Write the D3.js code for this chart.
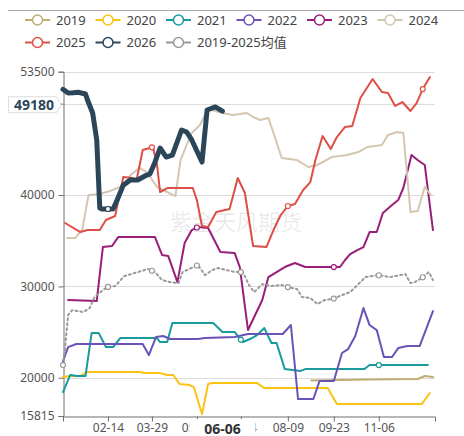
<!DOCTYPE html>
<html>
<head>
<meta charset="utf-8">
<script src="https://cdn.jsdelivr.net/npm/d3@7"></script>
<style>
  body { margin: 0; background: #fff; }
  svg { display: block; font-family: "Noto Sans", "Noto Sans CJK SC", sans-serif; }
</style>
</head>
<body>
<svg id="chart" width="464" height="436"></svg>
<script>
// series names and colours
const seriesNames = ["2019", "2020", "2021", "2022", "2023", "2024", "2025", "2026", "2019-2025均值"];
const seriesColors = ["#bfae72", "#fcc314", "#1b9a9e", "#6a52b8", "#981e78", "#d4c6b0", "#dd4f46", "#2c4659", "#999999"];

// [day of year (0 = 01-01), value]
const s2019 = [[243, 19690], [300, 19800], [347, 19860], [354, 20190], [362, 20080]];
const s2020 = [[0, 20080], [7, 20190], [17, 20190], [23, 20620], [75, 20620], [80, 20510], [95, 20510], [102, 20300],
  [108, 20300], [114, 19310], [124, 19200], [128, 18980], [136, 16030], [142, 19310], [146, 19420], [190, 19420],
  [197, 18870], [259, 18870], [268, 17120], [351, 17120], [359, 18330]];
const s2021 = [[0, 18430], [7, 20300], [14, 20190], [22, 20190], [28, 24890], [35, 24890], [42, 23360], [49, 23360],
  [56, 24350], [92, 24350], [95, 23910], [102, 23910], [107, 25990], [147, 25990], [156, 25000], [168, 25000],
  [176, 23910], [183, 24240], [190, 24680], [197, 25440], [204, 23800], [209, 23800], [217, 20950], [232, 20730],
  [237, 20950], [295, 20950], [300, 21390], [357, 21390]];
const s2022 = [[0, 21830], [5, 23360], [13, 23690], [78, 23690], [84, 22490], [91, 24460], [98, 24570], [105, 24240],
  [132, 24240], [139, 24350], [168, 24460], [181, 24790], [215, 24790], [223, 25770], [230, 17670], [245, 17670],
  [251, 19640], [265, 19640], [273, 22710], [279, 23140], [286, 24570], [294, 27630], [300, 25770], [307, 25220],
  [314, 22270], [322, 22270], [328, 23250], [337, 23470], [349, 23470], [362, 27300]];
const s2023 = [[5, 28510], [33, 28400], [39, 34310], [48, 34420], [54, 35400], [90, 35400], [97, 33430], [103, 33320],
  [112, 30470], [119, 34750], [126, 36170], [132, 36500], [142, 36390], [154, 33760], [168, 33650], [173, 32120],
  [181, 25230], [195, 28510], [201, 31020], [209, 31570], [217, 32120], [227, 32560], [237, 32120], [271, 32120],
  [276, 32890], [281, 33540], [288, 33980], [294, 34310], [300, 35950], [307, 35950], [313, 38030], [322, 38910],
  [328, 39450], [333, 40770], [341, 44380], [347, 43830], [354, 43290], [362, 36170]];
const s2024 = [[4, 35290], [12, 35290], [19, 36280], [25, 40000], [36, 40110], [46, 40440], [58, 40990], [66, 42190],
  [75, 42960], [82, 42520], [92, 40880], [110, 39890], [115, 43830], [121, 45480], [126, 46790], [134, 47670],
  [142, 49420], [156, 48980], [166, 48760], [180, 48980], [186, 48540], [193, 48210], [201, 48430], [205, 47120],
  [214, 44060], [229, 43830], [240, 43070], [249, 43290], [263, 44160], [278, 44380], [289, 44710], [298, 45260],
  [312, 45480], [318, 46570], [327, 46900], [333, 46790], [340, 38140], [347, 38250], [354, 40880], [360, 40000]];
const s2025 = [[2, 36940], [17, 35950], [24, 36170], [36, 36170], [42, 37270], [51, 37710], [59, 41970], [68, 41860],
  [72, 41640], [78, 44930], [85, 45150], [88, 45260], [92, 43290], [95, 40330], [102, 40770], [127, 40770],
  [131, 39450], [136, 36610], [142, 36500], [150, 38140], [163, 38470], [171, 41860], [178, 40220], [186, 34420],
  [199, 34310], [206, 36170], [213, 37810], [220, 38800], [227, 39010], [235, 40550], [242, 41420], [247, 43830],
  [254, 46460], [262, 45040], [268, 46350], [276, 47450], [283, 47560], [291, 50620], [303, 52700], [312, 51280],
  [318, 51170], [325, 49750], [332, 50180], [340, 49200], [346, 50070], [352, 51600], [359, 52920]];
const s2026 = [[0, 51570], [5, 51170], [10, 51200], [15, 51250], [22, 51060], [24, 50400], [29, 48980], [33, 46030],
  [36, 38580], [38, 38470], [49, 38470], [53, 39450], [59, 41090], [66, 41640], [73, 41640], [82, 42190], [85, 42300],
  [90, 43600], [95, 45150], [101, 44160], [107, 44380], [116, 47120], [121, 46900], [126, 46030], [136, 43610],
  [141, 49310], [149, 49640], [156, 49180]];
const sAvg = [[0, 21390], [2, 23250], [5, 26860], [9, 27410], [20, 27190], [26, 27630], [31, 28830], [38, 29490],
  [43, 29930], [51, 30040], [60, 31130], [70, 31460], [83, 31900], [90, 31570], [97, 30690], [105, 30470],
  [113, 30360], [117, 31570], [132, 32340], [139, 31240], [146, 31790], [152, 32010], [168, 31570], [176, 31570],
  [182, 30150], [187, 29380], [195, 30250], [204, 30040], [214, 30150], [220, 29930], [229, 29710], [234, 28830],
  [242, 28730], [249, 28070], [256, 28510], [264, 28620], [273, 29050], [281, 29380], [289, 30250], [296, 31020],
  [308, 31240], [320, 31020], [335, 31350], [340, 30360], [344, 30470], [351, 30910], [358, 31570], [362, 30690]];
const seriesData = [s2019, s2020, s2021, s2022, s2023, s2024, s2025, s2026, sAvg];

// hollow markers shown on some series
const markerDates = [[], [], ["06-24", "11-06"], [], ["05-12", "09-23"], [], ["03-29", "08-09", "12-19"], ["02-14"],
  ["01-01", "02-14", "03-29", "05-12", "06-24", "08-09", "09-23", "11-06", "12-19"]];

const xTickLabels = ["02-14", "03-29", "05-12", "06-24", "08-09", "09-23", "11-06"];
const yTicks = [15815, 20000, 30000, 40000, 50000, 53500];
const pointerDate = "06-06";
const pointerValue = 49180;

const svg = d3.select("#chart");
const parse = (s) => d3.timeParse("%Y-%m-%d")("2025-" + s);
const day0 = parse("01-01");
const toDate = (d) => d3.timeDay.offset(day0, d);

const x = d3.scaleTime().domain([day0, parse("12-31")]).range([63, 435]);
const y = d3.scaleLinear().domain([15815, 53500]).range([416, 71.7]);

// top rule (title area is cut off)
svg.append("line").attr("x1", 8).attr("x2", 464).attr("y1", 10.5).attr("y2", 10.5)
  .attr("stroke", "#aaa").attr("stroke-width", 1);

// legend
seriesNames.forEach((name, i) => {
  const col = i % 6, row = Math.floor(i / 6);
  const g = svg.append("g").attr("transform", `translate(${25 + col * 70.5}, ${20 + row * 22.5})`);
  g.append("line").attr("x1", 0).attr("x2", 25).attr("stroke", seriesColors[i]).attr("stroke-width", 2);
  g.append("circle").attr("cx", 12.5).attr("r", 5).attr("fill", "#fff")
    .attr("stroke", seriesColors[i]).attr("stroke-width", 1.5);
  g.append("text").attr("x", 31).attr("dy", "0.36em").attr("font-size", 13).attr("fill", "#444").text(name);
});

// grid
svg.append("g").selectAll("line").data(yTicks.filter((t) => t !== 15815)).join("line")
  .attr("x1", 63).attr("x2", 435).attr("y1", (d) => Math.round(y(d)) + 0.5).attr("y2", (d) => Math.round(y(d)) + 0.5)
  .attr("stroke", "#dcdcdc");

// watermark
svg.append("text").attr("x", 236).attr("y", 230).attr("text-anchor", "middle").attr("font-size", 22)
  .attr("fill", "#000").attr("fill-opacity", 0.09).text("紫金天风期货");

// axes (the 50000 label sits under the pointer label)
const yAxis = svg.append("g").attr("transform", "translate(63.5,0)")
  .call(d3.axisLeft(y).tickValues(yTicks).tickSize(5).tickPadding(4)
    .tickFormat((d) => (d === 50000 ? "" : d3.format("d")(d))));
const xAxis = svg.append("g").attr("transform", "translate(0,416.5)")
  .call(d3.axisBottom(x).tickValues(xTickLabels.map(parse)).tickSize(5).tickPadding(2).tickFormat(d3.timeFormat("%m-%d")));
[yAxis, xAxis].forEach((a) => {
  a.select(".domain").attr("stroke", "#6e6e6e");
  a.selectAll(".tick line").attr("stroke", "#6e6e6e");
  a.selectAll("text").attr("fill", "#555").attr("font-size", 12).attr("font-family", "Noto Sans, sans-serif");
});

// lines, 2026 drawn last so it sits on top
const line = d3.line().x((d) => x(toDate(d[0]))).y((d) => y(d[1]));
const drawOrder = [0, 1, 2, 3, 4, 5, 6, 8, 7];
drawOrder.forEach((i) => {
  const data = seriesData[i];
  const isAvg = i === 8, isNow = i === 7;
  svg.append("path").datum(data).attr("d", line).attr("fill", "none")
    .attr("stroke", seriesColors[i])
    .attr("stroke-width", isNow ? 5 : 2)
    .attr("stroke-linejoin", "round").attr("stroke-linecap", "round")
    .attr("stroke-dasharray", isAvg ? "2,3" : null);
});

// markers, value interpolated from the series
drawOrder.forEach((i) => {
  const data = seriesData[i];
  markerDates[i].forEach((m) => {
    const dd = d3.timeDay.count(day0, parse(m));
    const k = d3.bisector((p) => p[0]).left(data, dd);
    let v;
    if (k <= 0) v = data[0][1];
    else if (k >= data.length) v = data[data.length - 1][1];
    else {
      const a = data[k - 1], b = data[k];
      v = a[1] + (b[1] - a[1]) * (dd - a[0]) / (b[0] - a[0]);
    }
    svg.append("circle").attr("cx", x(parse(m))).attr("cy", y(v)).attr("r", 2.5)
      .attr("fill", "#fff").attr("stroke", seriesColors[i]).attr("stroke-width", 1.2);
  });
});

// axis pointer labels
const px = x(parse(pointerDate));
svg.append("rect").attr("x", px - 33).attr("y", 419).attr("width", 66).attr("height", 19).attr("fill", "#fff");
svg.append("text").attr("x", px).attr("y", 434).attr("text-anchor", "middle").attr("font-size", 14)
  .attr("font-weight", "bold").attr("fill", "#333").text(pointerDate);

const py = y(50000) + 1;
svg.append("path")
  .attr("d", `M8.5,${py - 8}H56.5L61,${py}L56.5,${py + 8}H8.5Z`)
  .attr("fill", "#fff").attr("stroke", "#ddd");
svg.append("text").attr("x", 54).attr("y", py).attr("dy", "0.36em").attr("text-anchor", "end")
  .attr("font-size", 14).attr("font-weight", "bold").attr("fill", "#2c4659").text(pointerValue);
</script>
</body>
</html>
